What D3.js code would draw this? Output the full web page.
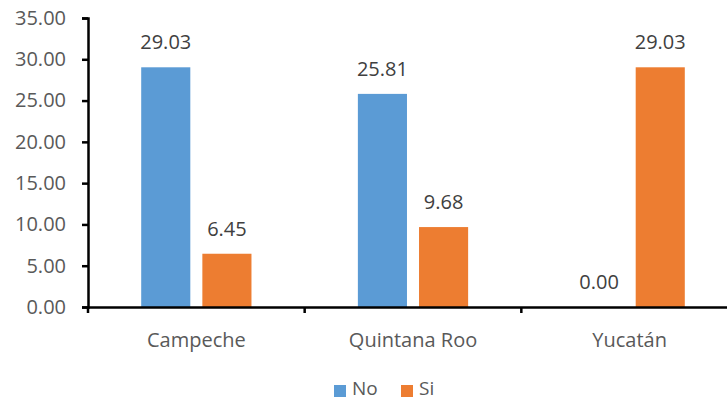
<!DOCTYPE html>
<html><head><meta charset="utf-8">
<script src="https://cdn.jsdelivr.net/npm/d3@7"></script>
<style>body{margin:0;background:#fff;} svg{display:block;}</style>
</head><body>
<svg id="c" width="727" height="402"></svg>
<script>
const categories = ["Campeche", "Quintana Roo", "Yucatán"];
const seriesNames = ["No", "Si"];
const noValues = [29.03, 25.81, 0.00];
const siValues = [6.45, 9.68, 29.03];
const yTicks = [0, 5, 10, 15, 20, 25, 30, 35];
const colors = ["#5B9BD5", "#ED7D31"];

const svg = d3.select("#c");
const font = "'Open Sans', sans-serif";
const fs = 20;
const x0 = 88, x1 = 738, yTop = 18, yBot = 307;

const x = d3.scaleBand().domain(categories).range([x0, x1]).paddingInner(0).paddingOuter(0);
const y = d3.scaleLinear().domain([0, 35]).range([yBot, yTop]);
const sub = d3.scaleBand().domain(seriesNames).range([0, x.bandwidth()]).paddingInner(0.197).paddingOuter(0.87);

const data = categories.map((c, i) => ({c, vals: [noValues[i], siValues[i]]}));

const g = svg.append("g");
data.forEach(d => {
  d.vals.forEach((v, j) => {
    const bx = x(d.c) + sub(seriesNames[j]);
    if (v > 0) {
      g.append("rect").attr("x", bx).attr("y", y(v)).attr("width", sub.bandwidth())
        .attr("height", y(0) - y(v)).attr("fill", colors[j]);
    }
    g.append("text").attr("x", bx + sub.bandwidth() / 2).attr("y", y(v) - 18)
      .attr("text-anchor", "middle").attr("font-family", font).attr("font-size", fs)
      .attr("fill", "#404040").text(v.toFixed(2));
  });
});

// y axis
const yAxis = svg.append("g").attr("transform", `translate(${x0},0)`)
  .call(d3.axisLeft(y).tickValues(yTicks).tickFormat(d3.format(".2f")).tickSize(6).tickPadding(16));
yAxis.select(".domain").attr("stroke", "#000").attr("stroke-width", 2.5);
yAxis.selectAll(".tick line").attr("stroke", "#000").attr("stroke-width", 2.5);
yAxis.selectAll(".tick text").attr("font-family", font).attr("font-size", fs).attr("fill", "#595959");

// x axis
const xAxis = svg.append("g").attr("transform", `translate(0,${yBot})`)
  .call(d3.axisBottom(x).tickSize(0).tickPadding(26));
xAxis.select(".domain").attr("stroke", "#000").attr("stroke-width", 2.5);
xAxis.selectAll(".tick text").attr("font-family", font).attr("font-size", fs).attr("fill", "#595959");
// category boundary ticks
const bounds = categories.map(c => x(c));
svg.append("g").selectAll("line").data(bounds).join("line")
  .attr("x1", d => d).attr("x2", d => d).attr("y1", yBot).attr("y2", yBot + 6)
  .attr("stroke", "#000").attr("stroke-width", 2.5);

// legend
const legX = [334, 401];
const leg = svg.append("g");
seriesNames.forEach((n, i) => {
  leg.append("rect").attr("x", legX[i]).attr("y", 385).attr("width", 12).attr("height", 12).attr("fill", colors[i]);
  leg.append("text").attr("x", legX[i] + 18).attr("y", 395).attr("font-family", font)
    .attr("font-size", 19).attr("fill", "#595959").text(n);
});
</script>
</body></html>
